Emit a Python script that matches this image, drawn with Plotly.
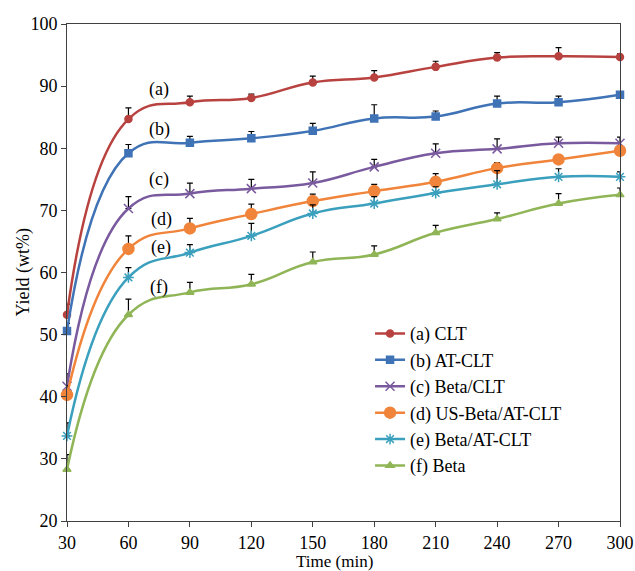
import plotly.graph_objects as go

time_min = [30, 60, 90, 120, 150, 180, 210, 240, 270, 300]

names = ["(a) CLT", "(b) AT-CLT", "(c) Beta/CLT", "(d) US-Beta/AT-CLT", "(e) Beta/AT-CLT", "(f) Beta"]
labels = ["(a)", "(b)", "(c)", "(d)", "(e)", "(f)"]

yield_a = [53.2, 84.7, 87.4, 88.1, 90.6, 91.4, 93.1, 94.6, 94.8, 94.7]
yield_b = [50.6, 79.2, 80.9, 81.6, 82.8, 84.8, 85.1, 87.2, 87.4, 88.6]
yield_c = [41.7, 70.3, 72.7, 73.5, 74.4, 77.0, 79.2, 79.9, 80.8, 80.8]
yield_d = [40.3, 63.8, 67.1, 69.4, 71.5, 73.1, 74.6, 76.8, 78.2, 79.6]
yield_e = [33.7, 59.2, 63.2, 65.9, 69.5, 71.1, 72.8, 74.2, 75.4, 75.4]
yield_f = [28.3, 53.2, 56.8, 58.1, 61.7, 62.9, 66.4, 68.6, 71.1, 72.5]

err_a = [1.7, 1.8, 1.0, 0.6, 1.0, 1.1, 0.9, 0.8, 1.4, 0.5]
err_b = [1.2, 1.4, 1.0, 1.1, 1.2, 2.2, 0.9, 1.2, 1.0, 0.4]
err_c = [2.0, 1.9, 1.7, 1.5, 1.8, 1.2, 1.5, 1.6, 1.0, 1.0]
err_d = [1.5, 2.1, 1.6, 1.6, 1.1, 1.1, 1.3, 0.9, 0.6, 0.5]
err_e = [2.1, 1.6, 1.3, 2.0, 1.4, 1.1, 1.0, 2.2, 1.3, 0.8]
err_f = [2.4, 2.5, 1.6, 1.6, 1.6, 1.4, 1.2, 1.0, 1.6, 1.1]

label_x = [75, 75, 75, 76, 76, 75]
label_y = [89.5, 83.0, 74.9, 68.6, 64.1, 57.6]

x_title = "Time (min)"
y_title = "Yield (wt%)"

series = [yield_a, yield_b, yield_c, yield_d, yield_e, yield_f]
errors = [err_a, err_b, err_c, err_d, err_e, err_f]
colors = ["#B8423F", "#3F73B6", "#7A5A9E", "#F0843A", "#3AA0BD", "#8FB556"]
symbols = ["circle", "square", "x-thin-open", "circle", "asterisk-open", "triangle-up"]
sizes = [7, 7, 9, 11, 9, 7]

FONT = "Liberation Serif, Times New Roman, serif"
FS = 18

fig = go.Figure()
for name, y, err, col, sym, sz in zip(names, series, errors, colors, symbols, sizes):
    fig.add_trace(go.Scatter(
        x=time_min, y=y, name=name, mode="lines+markers",
        line=dict(color=col, width=2.5, shape="spline", smoothing=1.3),
        marker=dict(symbol=sym, size=sz, color=col, line=dict(color=col, width=1.5)),
        error_y=dict(type="data", array=err, arrayminus=[0] * len(err), symmetric=False,
                     color="black", thickness=1.2, width=3),
        cliponaxis=False,
    ))

for lab, lx, ly in zip(labels, label_x, label_y):
    fig.add_annotation(x=lx, y=ly, text=lab, showarrow=False,
                       font=dict(family=FONT, size=FS, color="black"))

# axis titles
fig.add_annotation(xref="paper", yref="paper", x=0.483, y=0, yanchor="middle",
                   yshift=-40, text=x_title, showarrow=False,
                   font=dict(family=FONT, size=17, color="black"))
fig.add_annotation(xref="paper", yref="paper", x=0, y=0.5, xanchor="center",
                   xshift=-44, text=y_title, textangle=-90, showarrow=False,
                   font=dict(family=FONT, size=FS, color="black"))

fig.update_layout(
    width=635, height=571,
    margin=dict(l=67, r=15, t=24, b=50),
    paper_bgcolor="white", plot_bgcolor="white",
    font=dict(family=FONT, size=FS, color="black"),
    showlegend=True,
    legend=dict(x=0.548, y=0.414, xanchor="left", yanchor="top",
                bgcolor="rgba(0,0,0,0)", font=dict(family=FONT, size=FS),
                itemwidth=30, tracegroupgap=0),
    xaxis=dict(range=[30, 300], tick0=30, dtick=30, ticks="outside", ticklen=5,
               tickcolor="#404040", showline=True, linecolor="#404040", linewidth=1,
               mirror=True, showgrid=False, zeroline=False, automargin=False,
               tickfont=dict(family=FONT, size=FS)),
    yaxis=dict(range=[20, 100], dtick=10, ticks="outside", ticklen=5,
               tickcolor="#404040", showline=True, linecolor="#404040", linewidth=1,
               mirror=True, showgrid=False, zeroline=False, automargin=False,
               tickfont=dict(family=FONT, size=FS)),
)

# remove the default page margin so the 635x571 figure fills the window exactly
fig.write_html("out.html", config={"displayModeBar": False},
               post_script="document.body.style.margin='0';document.body.style.overflow='hidden';")
